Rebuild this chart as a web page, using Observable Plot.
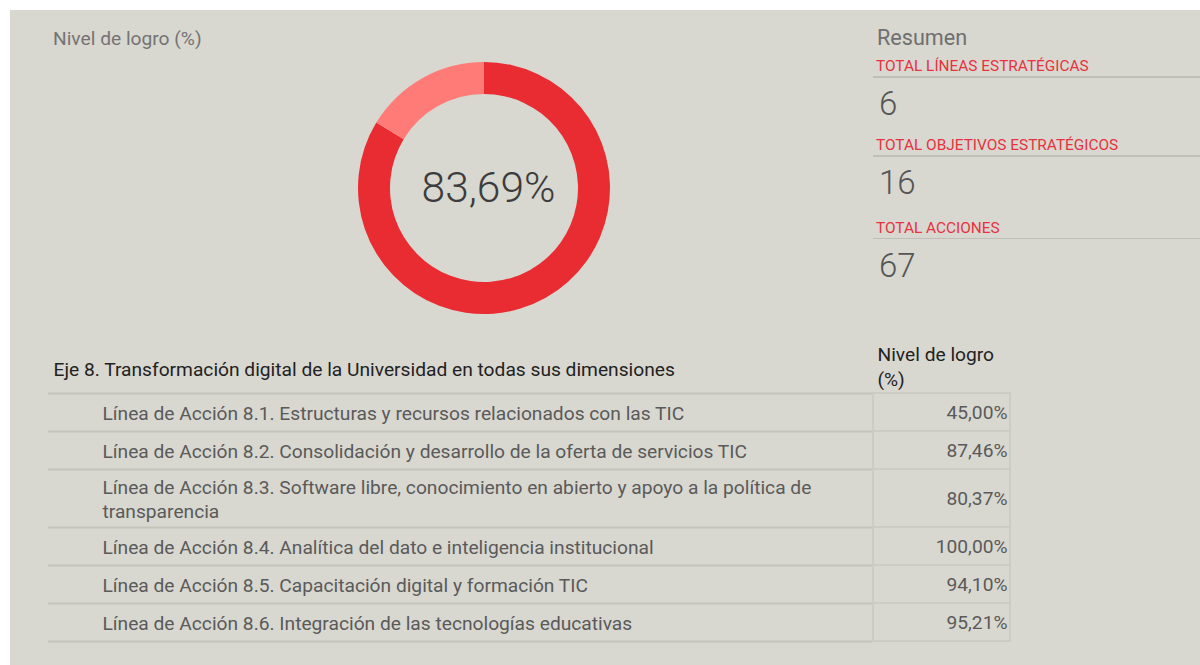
<!DOCTYPE html>
<html><head><meta charset="utf-8">
<script src="https://cdn.jsdelivr.net/npm/d3@7"></script>
<script src="https://cdn.jsdelivr.net/npm/@observablehq/plot@0.6"></script>
<style>
html,body{margin:0;padding:0;}
body{background:#fff;width:1200px;height:665px;position:relative;overflow:hidden;font-family:Roboto,"Noto Sans",sans-serif;}
#panel{position:absolute;left:10px;top:10px;width:1190px;height:655px;background:#d8d7d0;}
.abs{position:absolute;white-space:nowrap;line-height:1;}
.hl{position:absolute;height:1.5px;background:#bfbeb7;}
svg{position:absolute;}
</style></head><body>
<div id="panel"></div>
<script>
// ---------------- DATA ----------------
const nivelTotal = 83.69;
const donutParts = ["Logrado", "Pendiente"];
const donutValues = [83.69, 16.31];

const summaryLabels = ["TOTAL LÍNEAS ESTRATÉGICAS", "TOTAL OBJETIVOS ESTRATÉGICOS", "TOTAL ACCIONES"];
const summaryValues = [6, 16, 67];

const ejeTitulo = "Eje 8. Transformación digital de la Universidad en todas sus dimensiones";
const columnaNivel = "Nivel de logro\n(%)";
const lineasAccion = [
  "Línea de Acción 8.1. Estructuras y recursos relacionados con las TIC",
  "Línea de Acción 8.2. Consolidación y desarrollo de la oferta de servicios TIC",
  "Línea de Acción 8.3. Software libre, conocimiento en abierto y apoyo a la política de\ntransparencia",
  "Línea de Acción 8.4. Analítica del dato e inteligencia institucional",
  "Línea de Acción 8.5. Capacitación digital y formación TIC",
  "Línea de Acción 8.6. Integración de las tecnologías educativas"
];
const nivelLogro = [45.00, 87.46, 80.37, 100.00, 94.10, 95.21];

// ---------------- HELPERS ----------------
const fmt = v => v.toFixed(2).replace(".", ",");
const FONT = "Roboto, 'Noto Sans', sans-serif";
function place(text, x, baseline, size, color, weight = 400) {
  const d = document.createElement("div");
  d.className = "abs";
  d.textContent = text;
  d.style.left = x + "px";
  d.style.top = (baseline - 0.8415 * size) + "px";
  d.style.fontSize = size + "px";
  d.style.color = color;
  d.style.fontWeight = weight;
  document.body.appendChild(d);
  return d;
}
function hline(x, y, w) {
  const d = document.createElement("div");
  d.className = "hl";
  d.style.left = x + "px"; d.style.top = y + "px"; d.style.width = w + "px";
  document.body.appendChild(d);
}

// ---------------- TITLES ----------------
place("Nivel de logro (%)", 53, 45, 19.2, "#747474", 400);
place("Resumen", 877, 45, 21.6, "#6f6f6f", 400);

// ---------------- SUMMARY ----------------
const sumBase = [72, 151, 233.5];
summaryLabels.forEach((lab, i) => {
  place(lab, 876, sumBase[i], 15.4, "#e8323f", 400);
  hline(873, sumBase[i] + 4, 327);
  place(String(summaryValues[i]), 879, sumBase[i] + 43, 33, "#555", 300);
});

// ---------------- DONUT ----------------
const R_OUT = 126, R_IN = 94;
const donutData = donutParts.map((p, i) => ({part: p, value: donutValues[i]}));
function arcRender(index, scales, values, dimensions) {
  const {x1, x2, fill} = values;
  const arc = d3.arc().innerRadius(R_IN).outerRadius(R_OUT);
  const g = d3.create("svg:g")
    .attr("transform", `translate(${dimensions.width / 2},${dimensions.height / 2})`);
  g.selectAll("path").data(Array.from(index)).join("path")
    .attr("d", i => arc({startAngle: x1[i], endAngle: x2[i]}))
    .attr("fill", i => fill[i]);
  return g.node();
}
const DS = 270;
const donut = Plot.plot({
  width: DS, height: DS, margin: 0,
  style: {background: "transparent", overflow: "visible"},
  x: {domain: [0, 100], range: [0, 2 * Math.PI], axis: null},
  y: {axis: null},
  color: {domain: donutParts, range: ["#e92b32", "#ff7b78"]},
  marks: [
    Plot.barX(donutData, Plot.stackX({x: "value", fill: "part", render: arcRender})),
    Plot.text([nivelTotal], {
      text: d => fmt(d) + "%", frameAnchor: "middle", dx: 4,
      fontSize: 42.5, fontWeight: 300, fill: "#3c3c3c", fontFamily: FONT
    })
  ]
});
donut.style.left = (484 - DS / 2) + "px";
donut.style.top = (188 - DS / 2) + "px";
document.body.appendChild(donut);

// ---------------- TABLE ----------------
const UNIT = 20;               // px per line unit
const HEADER_UNITS = 2.5;
const FS = 19.2;
let acc = HEADER_UNITS;
const rows = lineasAccion.map((label, i) => {
  const units = label.split("\n").length + 0.9;
  const r = {label, value: nivelLogro[i], y1: acc, y2: acc + units, ym: acc + units / 2};
  acc += units;
  return r;
});
const totalUnits = acc;
const TBL_TOP = 343;
const COL_L = 48, COL_SPLIT = 872, COL_R = 1010;
const TEXT_X = 102, VAL_X = 1007;
const boundaries = [rows[0].y1, ...rows.map(r => r.y2)];

const table = Plot.plot({
  width: 1200, height: Math.ceil(totalUnits * UNIT) + 10, margin: 0,
  style: {background: "transparent", overflow: "visible"},
  x: {type: "identity", axis: null},
  y: {domain: [0, totalUnits], range: [0, totalUnits * UNIT], axis: null},
  marks: [
    Plot.ruleY(boundaries, {x1: COL_L, x2: COL_SPLIT, stroke: "#c4c3bc", strokeWidth: 2}),
    Plot.rect(rows, {x1: COL_SPLIT + 1, x2: COL_R, y1: "y1", y2: "y2", fill: "none", stroke: "#cccbc4", strokeWidth: 2}),
    Plot.text([ejeTitulo], {x: 53, y: HEADER_UNITS / 2 + 0.05, text: d => d, textAnchor: "start",
      fontSize: FS, fill: "#222", fontFamily: FONT}),
    Plot.text([columnaNivel], {x: 877, y: HEADER_UNITS / 2 - 0.15, text: d => d, textAnchor: "start",
      fontSize: FS, fill: "#222", lineHeight: 1.3, fontFamily: FONT}),
    Plot.text(rows, {x: TEXT_X, y: "ym", text: "label", textAnchor: "start",
      fontSize: FS, fill: "#5a5a5a", lineHeight: 1.25, fontFamily: FONT}),
    Plot.text(rows, {x: VAL_X, y: "ym", text: d => fmt(d.value) + "%", textAnchor: "end",
      fontSize: FS, fill: "#5a5a5a", fontFamily: FONT})
  ]
});
table.style.left = "0px";
table.style.top = TBL_TOP + "px";
document.body.appendChild(table);
</script></body></html>
